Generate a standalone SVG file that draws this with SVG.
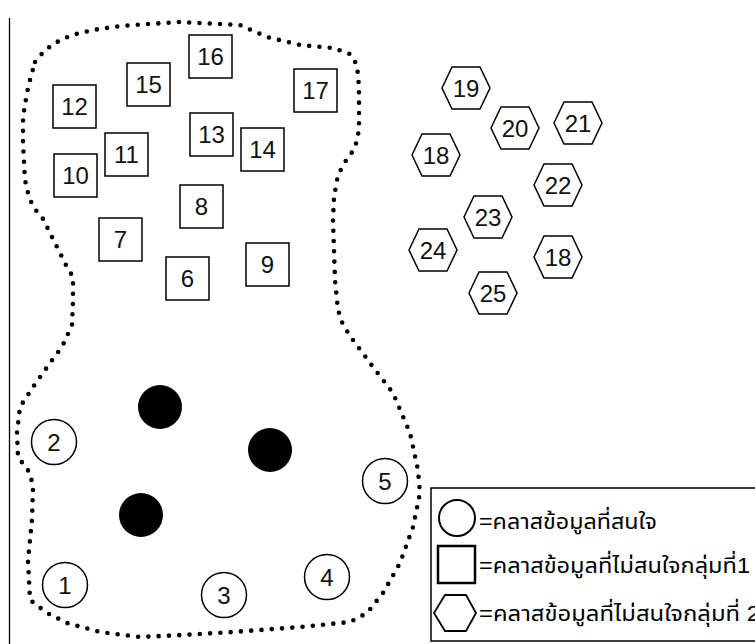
<svg xmlns="http://www.w3.org/2000/svg" xmlns:xlink="http://www.w3.org/1999/xlink" width="755" height="644" viewBox="0 0 755 644">
<style>
.sq{fill:#fff;stroke:#000;stroke-width:1.5}
.hx{fill:#fff;stroke:#000;stroke-width:1.5}
.ci{fill:#fff;stroke:#000;stroke-width:1.5}
.blk{fill:#000}
.num{font-family:"Liberation Sans",Arial,sans-serif;font-size:24px;fill:#111;text-anchor:middle}
.leg{font-family:"Liberation Sans","Noto Sans Thai","Noto Sans","DejaVu Sans",sans-serif;font-size:22px;fill:#000}
.dots{fill:none;stroke:#000;stroke-width:4.6;stroke-linecap:round;stroke-linejoin:round;stroke-dasharray:0 10.3}
</style>
<defs>
<polygon id="hex" class="hx" points="-24,0 -14,-21 14,-21 24,0 14,21 -14,21"/>
</defs>
<rect width="755" height="644" fill="#fff"/>
<line x1="9.5" y1="18" x2="9.5" y2="644" stroke="#000" stroke-width="1.3"/>
<g id="connectors">
<path class="dots" d="M35,62 L45,50 L57,42 L72,35 L93,30 L113,27 L133,25 L180,22 L240,25 L267,37 L300,45 L333,48 L350,54 L357,65 L359,87 L359,130 L355,148 L345,162 L338,175 L334,197 L333,220 L335,280 L338,310 L343,325 L353,340 L373,367 L393,393 L410,433 L418,470 L420,493 L413,527 L400,563 L383,593 L367,613 L350,622 L300,627 L233,632 L183,635 L140,637 L100,632 L67,623 L47,613 L30,600 L28,560 L32,520 L33,487 L30,473 L18,457 L17,433 L20,407 L33,387 L50,363 L62,347 L72,325 L73,300 L73,277 L67,267 L60,253 L50,233 L42,217 L33,207 L28,193 L25,180 L23,143 L23,117 L27,93 L30,80 Z"/>
</g>
<g id="n16"><rect class="sq" x="189" y="35" width="43" height="43"/><text class="num" x="210.5" y="65">16</text></g>
<g id="n15"><rect class="sq" x="127" y="63" width="43" height="43"/><text class="num" x="148.5" y="93">15</text></g>
<g id="n12"><rect class="sq" x="53" y="85" width="43" height="43"/><text class="num" x="74.5" y="115">12</text></g>
<g id="n17"><rect class="sq" x="294" y="69" width="43" height="43"/><text class="num" x="315.5" y="99">17</text></g>
<g id="n13"><rect class="sq" x="190" y="113" width="43" height="43"/><text class="num" x="211.5" y="143">13</text></g>
<g id="n14"><rect class="sq" x="241" y="128" width="43" height="43"/><text class="num" x="262.5" y="158">14</text></g>
<g id="n11"><rect class="sq" x="105" y="133" width="43" height="43"/><text class="num" x="126.5" y="163">11</text></g>
<g id="n10"><rect class="sq" x="54" y="154" width="43" height="43"/><text class="num" x="75.5" y="184">10</text></g>
<g id="n8"><rect class="sq" x="180" y="185" width="43" height="43"/><text class="num" x="201.5" y="215">8</text></g>
<g id="n7"><rect class="sq" x="99" y="218" width="43" height="43"/><text class="num" x="120.5" y="248">7</text></g>
<g id="n6"><rect class="sq" x="166" y="257" width="43" height="43"/><text class="num" x="187.5" y="287">6</text></g>
<g id="n9"><rect class="sq" x="246" y="243" width="43" height="43"/><text class="num" x="267.5" y="273">9</text></g>
<g id="n19"><use xlink:href="#hex" x="466" y="88"/><text class="num" x="466" y="96.5">19</text></g>
<g id="n20"><use xlink:href="#hex" x="515" y="128"/><text class="num" x="515" y="136.5">20</text></g>
<g id="n21"><use xlink:href="#hex" x="578" y="123"/><text class="num" x="578" y="131.5">21</text></g>
<g id="n18a"><use xlink:href="#hex" x="436" y="155"/><text class="num" x="436" y="163.5">18</text></g>
<g id="n22"><use xlink:href="#hex" x="558" y="185"/><text class="num" x="558" y="193.5">22</text></g>
<g id="n23"><use xlink:href="#hex" x="488" y="217"/><text class="num" x="488" y="225.5">23</text></g>
<g id="n24"><use xlink:href="#hex" x="433" y="250"/><text class="num" x="433" y="258.5">24</text></g>
<g id="n18b"><use xlink:href="#hex" x="558" y="257"/><text class="num" x="558" y="265.5">18</text></g>
<g id="n25"><use xlink:href="#hex" x="493" y="293"/><text class="num" x="493" y="301.5">25</text></g>
<g id="n2"><circle class="ci" cx="54" cy="442" r="22.5"/><text class="num" x="54" y="450.5">2</text></g>
<g id="n1"><circle class="ci" cx="65" cy="585" r="22.5"/><text class="num" x="65" y="593.5">1</text></g>
<g id="n3"><circle class="ci" cx="224" cy="595" r="22.5"/><text class="num" x="224" y="603.5">3</text></g>
<g id="n4"><circle class="ci" cx="327" cy="577" r="22.5"/><text class="num" x="327" y="585.5">4</text></g>
<g id="n5"><circle class="ci" cx="385" cy="481" r="22.5"/><text class="num" x="385" y="489.5">5</text></g>
<g id="c1"><circle class="blk" cx="160" cy="407" r="22"/></g>
<g id="c2"><circle class="blk" cx="270" cy="450" r="22"/></g>
<g id="c3"><circle class="blk" cx="141" cy="515" r="22"/></g>
<g id="legend">
<rect x="431" y="488" width="340" height="153" fill="#fff" stroke="#000" stroke-width="1.5"/>
<circle cx="457" cy="518" r="18" fill="#fff" stroke="#000" stroke-width="2"/>
<rect x="438" y="546" width="37" height="37" fill="#fff" stroke="#000" stroke-width="2.5"/>
<polygon points="434,613 445,595 466,595 476,613 466,631 445,631" fill="#fff" stroke="#000" stroke-width="1.8"/>
<text class="leg" x="479" y="529" textLength="178" lengthAdjust="spacingAndGlyphs">=คลาสข้อมูลที่สนใจ</text>
<text class="leg" x="479" y="573" textLength="271" lengthAdjust="spacingAndGlyphs">=คลาสข้อมูลที่ไม่สนใจกลุ่มที่1</text>
<text class="leg" x="479" y="621" textLength="281" lengthAdjust="spacingAndGlyphs">=คลาสข้อมูลที่ไม่สนใจกลุ่มที่ 2</text>
</g>
</svg>
